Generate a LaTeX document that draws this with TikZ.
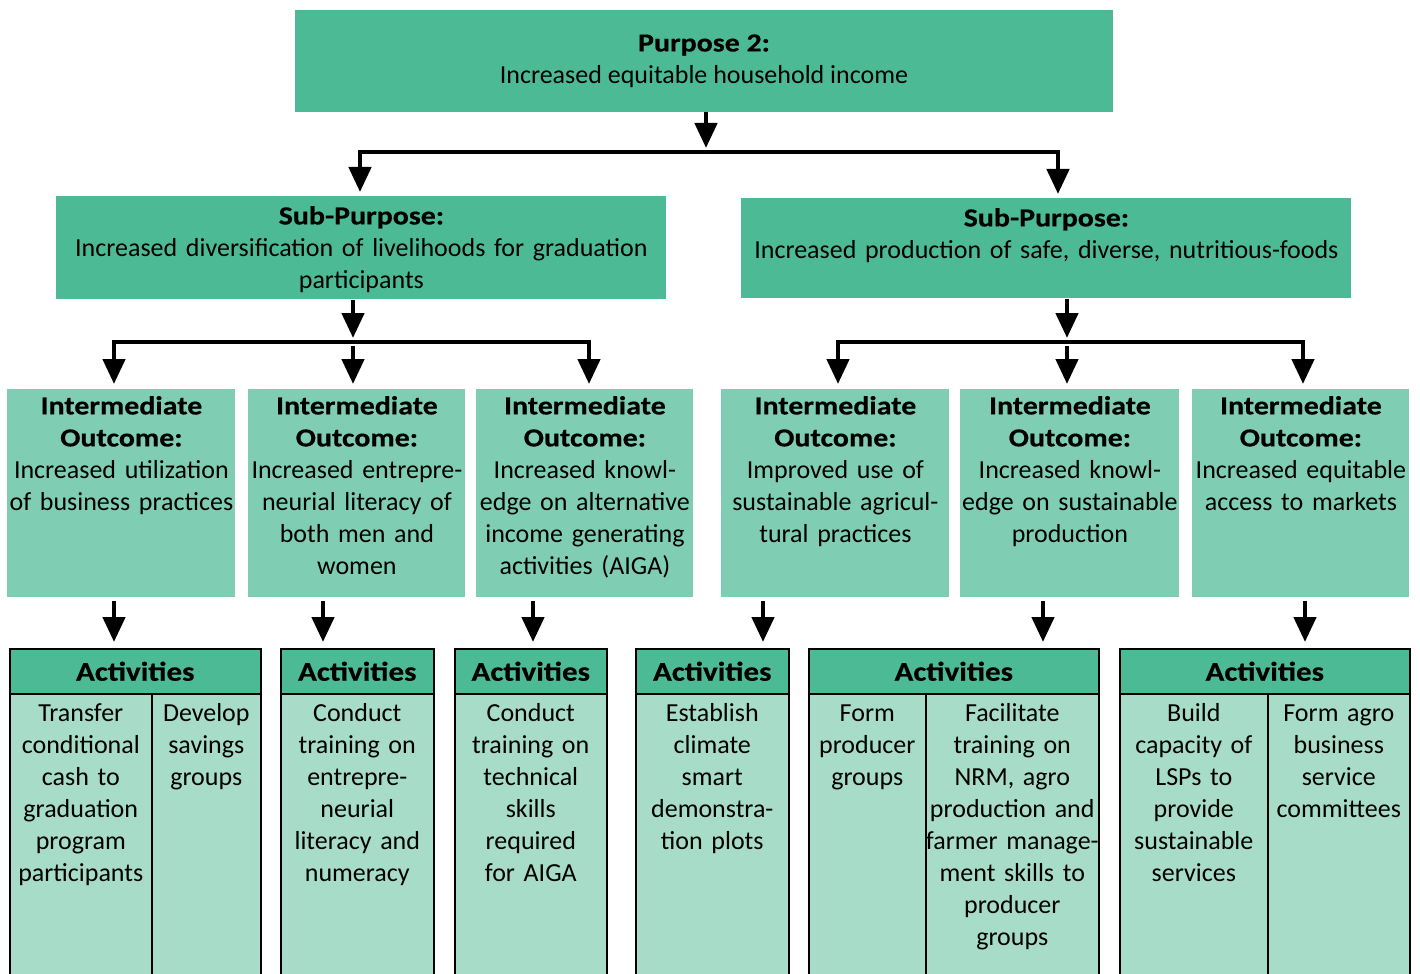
\documentclass[tikz,border=0pt]{standalone}
\usepackage{fontspec}
\setmainfont{Carlito}[BoldFeatures={FakeStretch=1.15,FakeBold=0.5}]
\usetikzlibrary{arrows.meta,positioning,calc}
\definecolor{lfgreen}{HTML}{4CBB95}
\definecolor{lfmint}{HTML}{7FCEB3}
\definecolor{lfpale}{HTML}{A6DCC8}
\newcommand{\lffont}{\fontsize{13}{16}\selectfont}

\begin{document}
\begin{tikzpicture}[x=0.5pt,y=-0.5pt,
  goal/.style={fill=lfgreen,inner sep=0pt,align=center,font=\lffont,
               minimum width=409pt,minimum height=51pt},
  subgoal/.style={fill=lfgreen,inner sep=0pt,align=center,font=\lffont,
               anchor=north west,text width=305pt,text height=14pt},
  outcome/.style={fill=lfmint,inner sep=0pt,align=center,font=\lffont,
               anchor=north west,text height=12.5pt,text depth=91.5pt},
  acthead/.style={draw=black,line width=0.8pt,fill=lfgreen,inner sep=0pt,
               anchor=north west,minimum height=22.5pt,
               font=\fontsize{13.5}{16}\selectfont\bfseries},
  actbody/.style={draw=black,line width=0.8pt,fill=lfpale,inner sep=0pt,
               anchor=north west,align=center,font=\lffont,
               text height=14pt,text depth=131pt},
  arr/.style={-{Triangle[length=12.5pt,width=11pt]},line width=2.3pt},
  bus/.style={line width=1.6pt,line cap=rect}]
  \useasboundingbox (0,0) rectangle (1420,974);
  % purpose and sub-purposes
  \node[goal] (p) at (704,61) {\textbf{Purpose 2:}\\Increased equitable household income};
  \node[subgoal,text depth=37.5pt] (sl) at (56,196) {\textbf{Sub-Purpose:}\\Increased diversification of livelihoods for graduation\\participants};
  \node[subgoal,text depth=36pt] (sr) at (741,198) {\textbf{Sub-Purpose:}\\Increased production of safe, diverse, nutritious-foods};
  % intermediate outcomes
  \node[outcome,text width=114pt] (io1) at (7,389) {\textbf{Intermediate}\\\textbf{Outcome:}\\Increased utilization\\of business practices};
  \node[outcome,text width=108.5pt] (io2) at (248,389) {\textbf{Intermediate}\\\textbf{Outcome:}\\Increased entrepre-\\neurial literacy of\\both men and\\women};
  \node[outcome,text width=108.5pt] (io3) at (476,389) {\textbf{Intermediate}\\\textbf{Outcome:}\\Increased knowl-\\edge on alternative\\income generating\\activities (AIGA)};
  \node[outcome,text width=114pt] (io4) at (721,389) {\textbf{Intermediate}\\\textbf{Outcome:}\\Improved use of\\sustainable agricul-\\tural practices};
  \node[outcome,text width=109.5pt] (io5) at (960,389) {\textbf{Intermediate}\\\textbf{Outcome:}\\Increased knowl-\\edge on sustainable\\production};
  \node[outcome,text width=108.5pt] (io6) at (1192,389) {\textbf{Intermediate}\\\textbf{Outcome:}\\Increased equitable\\access to markets};
  % activities
  \node[acthead,minimum width=125.5pt] (h1) at (9,648) {Activities};
  \node[actbody,text width=71pt] (a1a) at (9,693) {Transfer\\conditional\\cash to\\graduation\\program\\participants};
  \node[actbody,text width=54.5pt] (a1b) at (151,693) {Develop\\savings\\groups};
  \node[acthead,minimum width=76.5pt] (h2) at (280,648) {Activities};
  \node[actbody,text width=76.5pt] (a2) at (280,693) {Conduct\\training on\\entrepre-\\neurial\\literacy and\\numeracy};
  \node[acthead,minimum width=76pt] (h3) at (454,648) {Activities};
  \node[actbody,text width=76pt] (a3) at (454,693) {Conduct\\training on\\technical\\skills\\required\\for AIGA};
  \node[acthead,minimum width=76.5pt] (h4) at (635,648) {Activities};
  \node[actbody,text width=76.5pt] (a4) at (635,693) {Establish\\climate\\smart\\demonstra-\\tion plots};
  \node[acthead,minimum width=145pt] (h5) at (808,648) {Activities};
  \node[actbody,text width=58.5pt] (a5a) at (808,693) {Form\\producer\\groups};
  \node[actbody,text width=86.5pt] (a5b) at (925,693) {Facilitate\\training on\\NRM, agro\\production and\\farmer manage-\\ment skills to\\producer\\groups};
  \node[acthead,minimum width=145pt] (h6) at (1119,648) {Activities};
  \node[actbody,text width=74pt] (a6a) at (1119,693) {Build\\capacity of\\LSPs to\\provide\\sustainable\\services};
  \node[actbody,text width=71pt] (a6b) at (1267,693) {Form agro\\business\\service\\committees};
  % junctions
  \coordinate (top) at (706,152);
  \coordinate (topl) at (360,152);
  \coordinate (topr) at (1058,152);
  \coordinate (lmid) at (353,342);
  \coordinate (lleft) at (114,342);
  \coordinate (lright) at (589,342);
  \coordinate (rmid) at (1067,342);
  \coordinate (rleft) at (838,342);
  \coordinate (rright) at (1303,342);
  \coordinate (c1) at (114,0);
  \coordinate (c2) at (323,0);
  \coordinate (c3) at (533,0);
  \coordinate (c4) at (763,0);
  \coordinate (c5) at (1043,0);
  \coordinate (c6) at (1305,0);
  % connectors
  \draw[arr,shorten >=2pt] (p.south -| top) -- (top);
  \draw[bus] (topl) -- (topr);
  \draw[arr,shorten >=2pt] (topl) -- (topl |- sl.north);
  \draw[arr,shorten >=2pt] (topr) -- (topr |- sr.north);
  \draw[arr,shorten >=2pt] (sl.south -| lmid) -- (lmid);
  \draw[bus] (lleft) -- (lright);
  \draw[arr,shorten >=2.5pt] (lleft) -- (lleft |- io1.north);
  \draw[arr,shorten <=2pt,shorten >=2.5pt] (lmid) -- (lmid |- io2.north);
  \draw[arr,shorten >=2.5pt] (lright) -- (lright |- io3.north);
  \draw[arr,shorten >=2pt] (sr.south -| rmid) -- (rmid);
  \draw[bus] (rleft) -- (rright);
  \draw[arr,shorten >=2.5pt] (rleft) -- (rleft |- io4.north);
  \draw[arr,shorten <=2pt,shorten >=2.5pt] (rmid) -- (rmid |- io5.north);
  \draw[arr,shorten >=2.5pt] (rright) -- (rright |- io6.north);
  \draw[arr,shorten <=1.5pt,shorten >=3pt] (io1.south -| c1) -- (h1.north -| c1);
  \draw[arr,shorten <=1.5pt,shorten >=3pt] (io2.south -| c2) -- (h2.north -| c2);
  \draw[arr,shorten <=1.5pt,shorten >=3pt] (io3.south -| c3) -- (h3.north -| c3);
  \draw[arr,shorten <=1.5pt,shorten >=3pt] (io4.south -| c4) -- (h4.north -| c4);
  \draw[arr,shorten <=1.5pt,shorten >=3pt] (io5.south -| c5) -- (h5.north -| c5);
  \draw[arr,shorten <=1.5pt,shorten >=3pt] (io6.south -| c6) -- (h6.north -| c6);
\end{tikzpicture}
\end{document}
